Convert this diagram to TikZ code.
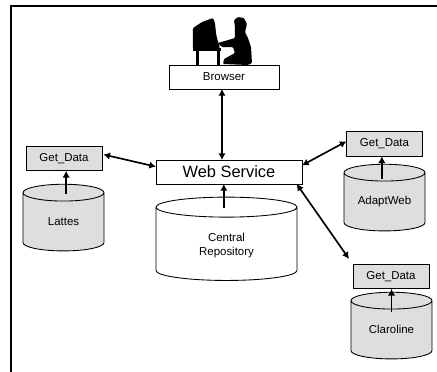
\documentclass[tikz,border=0pt]{standalone}
\usepackage{fontspec}
\setmainfont{Liberation Sans}
\usetikzlibrary{arrows.meta,shapes.geometric}

% Label of a database: drop, width, text (the width also sets the size of the caps)
\newcommand{\dblabel}[3]{\raisebox{-#1}[0pt][0pt]{\parbox{#2}{\centering #3}}}

\tikzset{
  boxnode/.style={draw=black, line width=0.65pt, inner sep=0pt, outer sep=0pt, font=\fontsize{8.6}{10.5}\selectfont},
  getdata/.style={boxnode, fill=black!13, minimum width=57pt, minimum height=18.5pt},
  dbnode/.style={cylinder, shape border rotate=90, draw=black, line width=0.65pt, inner sep=0pt, outer sep=0pt,
    aspect=0.3, font=\fontsize{8.6}{10.5}\selectfont},
  graydb/.style={dbnode, cylinder uses custom fill, cylinder body fill=black!13, cylinder end fill=black!13,
    minimum width=60.75pt, minimum height=50pt},
  link/.style={line width=1.25pt, {Latex[length=5pt,width=5.5pt]}-{Latex[length=5pt,width=5.5pt]}},
  uplink/.style={line width=1.25pt, -{Latex[length=5pt,width=5.5pt]}},
  figure/.style={fill=black, rounded corners=0.8pt}
}

\begin{document}
\begin{tikzpicture}[x=0.75pt,y=-0.75pt]
  % Page and frame
  \useasboundingbox (0,0) rectangle (437,372);
  \draw[line width=1.5pt] (11,372) -- (11,6) -- (437,6);

  % Computer and user
  \fill[figure] (193,28) -- (202,22) -- (213,18) -- (215,23) -- (216,33) -- (217,38) -- (220,48) -- (193,49) -- cycle;
  \fill (193,47.5) rectangle (221,50.5);
  \fill (196,50) rectangle (199,65);
  \fill (217,50) rectangle (220,65);
  \fill[figure] (218,43) -- (235,38) -- (235,27) -- (234,20) -- (238,17) -- (244,18) -- (247,24) -- (245,32)
    -- (248,38) -- (251,47) -- (252,63) -- (248,65) -- (223,64) -- (224,59) -- (235,53) -- (233,47) -- (222,47) -- cycle;

  % Main boxes
  \node[boxnode, minimum width=82.5pt, minimum height=18pt] (browser) at (224,77) {Browser};
  \node[boxnode, minimum width=109.5pt, minimum height=18pt, font=\fontsize{12.3}{14}\selectfont] (webservice) at (229,172) {Web Service};

  % Databases
  \node[dbnode, minimum width=105.75pt, minimum height=62.5pt] (central) at (226.5,244) {\dblabel{3.75pt}{50pt}{Central\\Repository}};
  \node[getdata] (getlattes) at (64,158.5) {Get\_Data};
  \node[graydb] (lattes) at (63.5,222) {\dblabel{1.6pt}{42pt}{Lattes}};
  \node[getdata] (getadapt) at (384.5,144) {Get\_Data};
  \node[graydb] (adaptweb) at (384.5,202) {\dblabel{1.6pt}{42pt}{AdaptWeb}};
  \node[getdata] (getclaroline) at (391,276.5) {Get\_Data};
  \node[graydb] (claroline) at (391.5,330) {\dblabel{1.6pt}{42pt}{Claroline}};

  % Connectors
  \draw[link] ([xshift=-1.5pt]browser.south) -- ([xshift=-1.5pt]browser.south |- webservice.north);
  \draw[link] ([xshift=1pt,yshift=3pt]getlattes.east) -- ([yshift=4pt]webservice.west);
  \draw[link] ([yshift=2pt]getadapt.west) -- ([yshift=5pt]webservice.east);
  \draw[link] ([xshift=-4pt]webservice.south east) -- ([xshift=-3pt,yshift=4pt]getclaroline.north west);
  \draw[uplink] ([xshift=-2pt,yshift=-8pt]central.north) -- ([xshift=-2pt]central.north |- webservice.south);
  \draw[uplink] ([xshift=2pt,yshift=-7pt]lattes.north) -- ([xshift=2pt]lattes.north |- getlattes.south);
  \draw[uplink] ([xshift=-2pt,yshift=-11pt]adaptweb.north) -- ([xshift=-2pt]adaptweb.north |- getadapt.south);
  \draw[uplink] ([yshift=-15pt]claroline.north) -- (claroline.north |- getclaroline.south);
\end{tikzpicture}
\end{document}
